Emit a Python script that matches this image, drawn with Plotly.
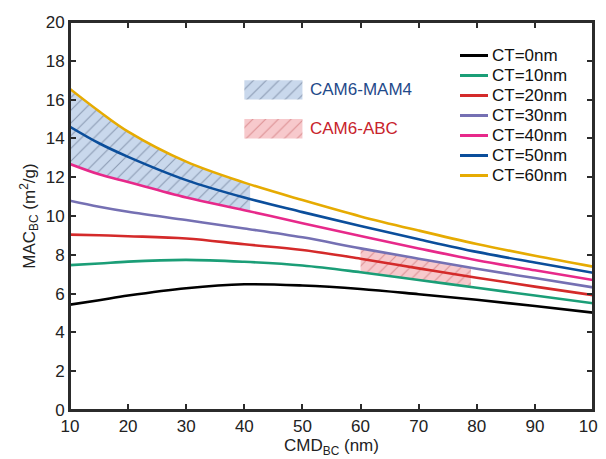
import plotly.graph_objects as go

# ---------------- data ----------------
cmd = [10, 15, 20, 30, 40, 50, 60, 70, 80, 90, 100]
mac_ct0 = [5.43, 5.66, 5.90, 6.28, 6.48, 6.42, 6.24, 5.97, 5.68, 5.36, 5.02]
mac_ct10 = [7.47, 7.55, 7.65, 7.74, 7.64, 7.45, 7.10, 6.70, 6.30, 5.90, 5.50]
mac_ct20 = [9.04, 9.01, 8.96, 8.84, 8.54, 8.25, 7.80, 7.30, 6.82, 6.36, 5.92]
mac_ct30 = [10.79, 10.48, 10.22, 9.79, 9.36, 8.90, 8.33, 7.80, 7.28, 6.80, 6.32]
mac_ct40 = [12.68, 12.15, 11.75, 10.95, 10.30, 9.63, 8.97, 8.33, 7.72, 7.20, 6.70]
mac_ct50 = [14.60, 13.75, 13.05, 11.85, 10.95, 10.20, 9.48, 8.80, 8.15, 7.60, 7.07]
mac_ct60 = [16.55, 15.40, 14.35, 12.80, 11.72, 10.82, 9.98, 9.25, 8.56, 7.95, 7.39]

series_names = ["CT=0nm", "CT=10nm", "CT=20nm", "CT=30nm", "CT=40nm", "CT=50nm", "CT=60nm"]
series_values = [mac_ct0, mac_ct10, mac_ct20, mac_ct30, mac_ct40, mac_ct50, mac_ct60]
series_colors = ["#000000", "#1b9e77", "#d42a2a", "#7570b3", "#e7298a", "#0b4e9b", "#e6ab02"]

# model ranges (hatched regions)
mam4_x = [10, 15, 20, 30, 41]
mam4_low = [12.68, 12.15, 11.75, 10.95, 10.24]
mam4_high = [16.55, 15.40, 14.35, 12.80, 11.63]
abc_x = [60, 70, 79]
abc_low = [7.10, 6.70, 6.34]
abc_high = [8.33, 7.80, 7.33]

x_ticks = [10, 20, 30, 40, 50, 60, 70, 80, 90, 100]
y_ticks = [0, 2, 4, 6, 8, 10, 12, 14, 16, 18, 20]

FONT = "Liberation Sans, Arial, Helvetica, sans-serif"
MAM4_BG = "#c9d8ec"
MAM4_FG = "#4a5a78"
ABC_BG = "#f7c9cc"
ABC_FG = "#c0555a"
AXIS_COLOR = "#2b2b2b"

fig = go.Figure()

def add_region(xs, lo, hi, bg, fg):
    fig.add_trace(go.Scatter(x=xs, y=lo, mode="lines", line=dict(width=0, shape="spline"),
                             showlegend=False, hoverinfo="skip"))
    fig.add_trace(go.Scatter(x=xs, y=hi, mode="lines", line=dict(width=0, shape="spline"),
                             fill="tonexty", fillcolor=bg,
                             fillpattern=dict(shape="/", bgcolor=bg, fgcolor=fg, size=9, solidity=0.12),
                             showlegend=False, hoverinfo="skip"))

add_region(mam4_x, mam4_low, mam4_high, MAM4_BG, MAM4_FG)
add_region(abc_x, abc_low, abc_high, ABC_BG, ABC_FG)

# key patches for the two regions
for (y0, bg, fg) in [(16, MAM4_BG, MAM4_FG), (14, ABC_BG, ABC_FG)]:
    fig.add_trace(go.Scatter(x=[40, 50, 50, 40, 40], y=[y0, y0, y0 + 1, y0 + 1, y0],
                             mode="lines", line=dict(width=0), fill="toself", fillcolor=bg,
                             fillpattern=dict(shape="/", bgcolor=bg, fgcolor=fg, size=9, solidity=0.12),
                             showlegend=False, hoverinfo="skip"))

for name, vals, col in zip(series_names, series_values, series_colors):
    fig.add_trace(go.Scatter(x=cmd, y=vals, mode="lines", name=name,
                             line=dict(color=col, width=2.6, shape="spline", smoothing=1.0),
                             showlegend=False))

fig.add_annotation(x=50.9, y=16.5, xref="x", yref="y", text="CAM6-MAM4", showarrow=False,
                   xanchor="left", yanchor="middle", font=dict(family=FONT, size=17, color="#1f4a8a"))
fig.add_annotation(x=50.9, y=14.5, xref="x", yref="y", text="CAM6-ABC", showarrow=False,
                   xanchor="left", yanchor="middle", font=dict(family=FONT, size=17, color="#c8232b"))

# custom legend (lines + labels) in the top right; pixel positions are window pixels
L, R, T, B = 70, 593, 22, 410
def px2paper(px, py):
    return (px - L) / (R - L), (B - py) / (B - T)

for i, (name, col) in enumerate(zip(series_names, series_colors)):
    py = 55.5 + 20.0 * i
    x0, yy = px2paper(460, py)
    x1, _ = px2paper(488, py)
    xt, _ = px2paper(490, py)
    fig.add_shape(type="line", xref="paper", yref="paper", x0=x0, x1=x1, y0=yy, y1=yy,
                  line=dict(color=col, width=3))
    fig.add_annotation(x=xt, y=yy, xref="paper", yref="paper", text=name, showarrow=False,
                       xanchor="left", yanchor="middle", font=dict(family=FONT, size=17, color="#111111"))

# full frame around the plot area
fig.add_shape(type="rect", xref="paper", yref="paper", x0=0, x1=1, y0=0, y1=1,
              line=dict(color=AXIS_COLOR, width=2), fillcolor="rgba(0,0,0,0)", layer="above")

axis_common = dict(showline=True, linecolor=AXIS_COLOR, linewidth=2, mirror="ticks",
                   ticks="inside", ticklen=6, tickwidth=2, tickcolor=AXIS_COLOR,
                   showgrid=False, zeroline=False, ticklabeloverflow="allow",
                   tickfont=dict(family=FONT, size=17, color="#222222"))

fig.update_xaxes(range=[10, 100], tickvals=x_ticks, ticktext=[str(v) for v in x_ticks],
                 title=dict(text="CMD<sub>BC</sub> (nm)", font=dict(family=FONT, size=17, color="#222222"),
                            standoff=4),
                 **axis_common)
fig.update_yaxes(range=[0, 20], tickvals=y_ticks, ticktext=[str(v) for v in y_ticks],
                 title=dict(text="MAC<sub>BC</sub> (m<sup>2</sup>/g)", font=dict(family=FONT, size=17, color="#222222"),
                            standoff=6),
                 **axis_common)

# the page body adds an 8 px offset, so margins are shifted to keep the plot box in place
fig.update_layout(width=606, height=459, margin=dict(l=62, r=21, t=14, b=57, autoexpand=False),
                  plot_bgcolor="white", paper_bgcolor="white", font=dict(family=FONT))

fig.write_html("out.html")
